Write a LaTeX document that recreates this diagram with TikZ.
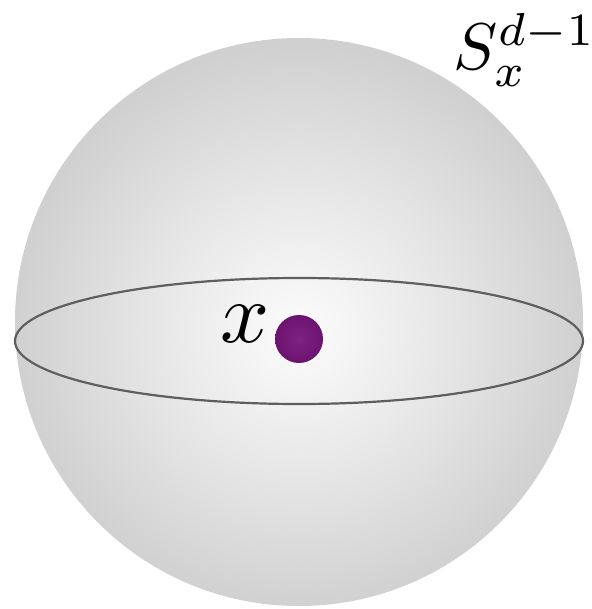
\documentclass[tikz,border=0pt]{standalone}
\usepackage{amsmath, amssymb}
\usepackage{tikz}
\usetikzlibrary{positioning}
\usepackage{xcolor}
\definecolor{sphEdge}{HTML}{D0D0D0}
\definecolor{sphMid}{HTML}{E6E6E6}
\definecolor{sphCore}{HTML}{FCFCFC}
\definecolor{ptPurple}{HTML}{6C1370}
\definecolor{ptLight}{HTML}{7E2282}
\definecolor{rimGray}{HTML}{5E5E5E}
\pgfdeclareradialshading{spherefill}{\pgfpoint{0bp}{-1bp}}{%
  color(0bp)=(sphCore); color(13bp)=(sphMid); color(25bp)=(sphEdge); color(50bp)=(sphEdge)}
\pgfdeclareradialshading{pointfill}{\pgfpoint{0bp}{0bp}}{%
  color(0bp)=(ptLight); color(25bp)=(ptPurple); color(50bp)=(ptPurple)}

\begin{document}
\begin{tikzpicture}[
    x=0.5pt, y=-0.5pt,
    sphere/.style={circle, draw=none, shading=spherefill, minimum size=284pt, inner sep=0pt},
    pt/.style={circle, draw=none, shading=pointfill, minimum size=24pt, inner sep=0pt},
    rim/.style={line width=1.1pt, rimGray},
    lbl/.style={inner sep=0pt},
  ]
    \useasboundingbox (0,0) rectangle (591,609);
    \node[sphere] (ball) at (299,322) {};
    \draw[rim] (299,341) ellipse [x radius=284, y radius=63];
    \node[pt] (x) at (299,339) {};
    \node[lbl, scale=4.3] (xlab) at (245,324) {$x$};
    \node[lbl, scale=3.3] (slab) at (525,50) {$S_x^{d-1}$};
  \end{tikzpicture}
\end{document}
